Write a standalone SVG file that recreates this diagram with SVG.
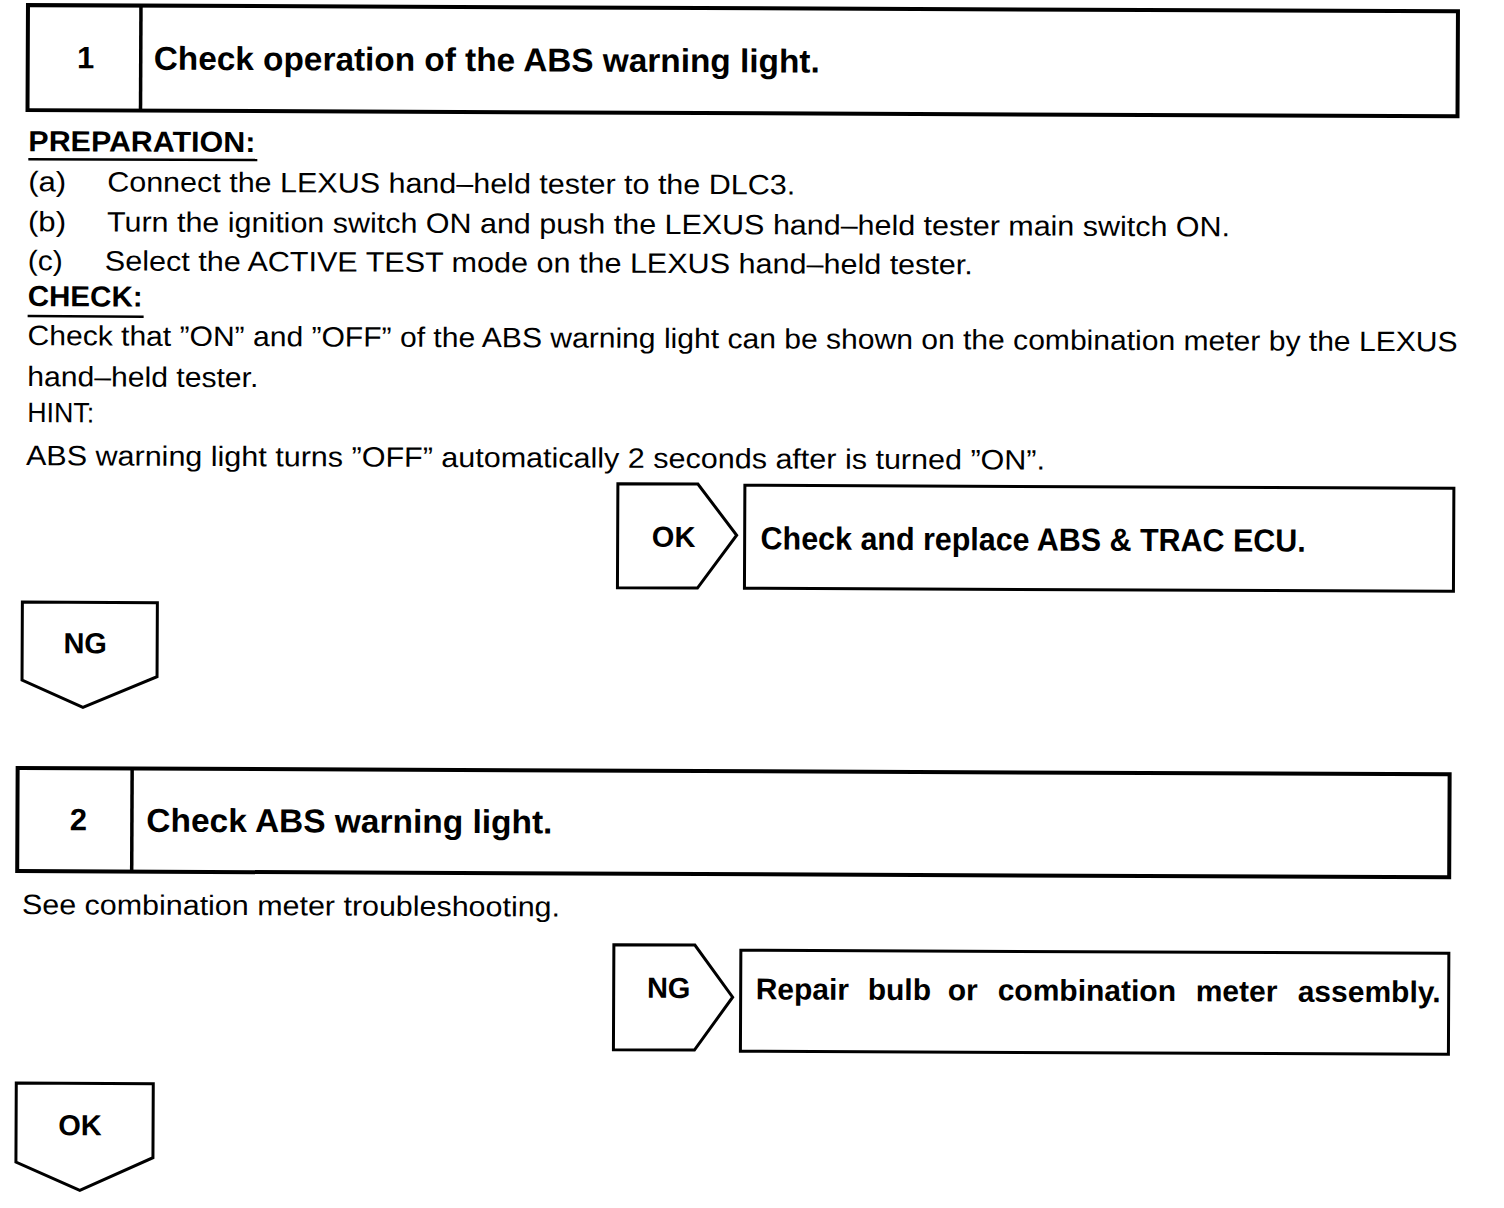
<svg xmlns="http://www.w3.org/2000/svg" width="1504" height="1208" viewBox="0 0 1504 1208">
<defs>
<style>
.frame{fill:#fff;stroke:#000;stroke-width:4}
.div{stroke:#000;stroke-width:3.5}
.flow{fill:#fff;stroke:#000;stroke-width:3;stroke-linejoin:miter}
.ul{stroke:#000;stroke-width:2.5}
.t{font-family:"Liberation Sans",Arial,Helvetica,sans-serif;font-size:28px;fill:#000}
.b{font-weight:bold}
.h{font-size:33px;font-weight:bold}
.lab{font-size:29px;font-weight:bold;text-anchor:middle}
</style>
</defs>
<rect width="1504" height="1208" fill="#fff"/>
<g transform="rotate(0.25)">
  <g id="step1">
    <rect class="frame" x="28" y="5" width="1430" height="105"/>
    <line class="div" x1="141" y1="5" x2="141" y2="110"/>
    <text class="t lab" x="86" y="68" style="font-size:31px">1</text>
    <text class="t h" x="154" y="69" textLength="666" lengthAdjust="spacingAndGlyphs">Check operation of the ABS warning light.</text>
  </g>
  <g id="step1-text">
    <text class="t b" x="29" y="151" style="font-size:29px" textLength="227" lengthAdjust="spacingAndGlyphs">PREPARATION:</text>
    <line class="ul" x1="29" y1="159" x2="258" y2="159"/>
    <text class="t" x="29" y="191" textLength="38" lengthAdjust="spacingAndGlyphs">(a)</text>
    <text class="t" x="108" y="191" textLength="688" lengthAdjust="spacingAndGlyphs">Connect the LEXUS hand–held tester to the DLC3.</text>
    <text class="t" x="29" y="231" textLength="38" lengthAdjust="spacingAndGlyphs">(b)</text>
    <text class="t" x="108" y="231" textLength="1123" lengthAdjust="spacingAndGlyphs">Turn the ignition switch ON and push the LEXUS hand–held tester main switch ON.</text>
    <text class="t" x="29" y="270" textLength="35" lengthAdjust="spacingAndGlyphs">(c)</text>
    <text class="t" x="106" y="270" textLength="868" lengthAdjust="spacingAndGlyphs">Select the ACTIVE TEST mode on the LEXUS hand–held tester.</text>
    <text class="t b" x="29" y="306" style="font-size:29px" textLength="115" lengthAdjust="spacingAndGlyphs">CHECK:</text>
    <line class="ul" x1="29" y1="316" x2="145" y2="316"/>
    <text class="t" x="29" y="345" textLength="1430" lengthAdjust="spacingAndGlyphs">Check that ”ON” and ”OFF” of the ABS warning light can be shown on the combination meter by the LEXUS</text>
    <text class="t" x="29" y="386" textLength="231" lengthAdjust="spacingAndGlyphs">hand–held tester.</text>
    <text class="t" x="29" y="422" textLength="67" lengthAdjust="spacingAndGlyphs">HINT:</text>
    <text class="t" x="28" y="465" textLength="1019" lengthAdjust="spacingAndGlyphs">ABS warning light turns ”OFF” automatically 2 seconds after is turned ”ON”.</text>
  </g>
  <g id="ok1">
    <polygon class="flow" points="620,481 700,481 739,532 700,585 620,585"/>
    <text class="t lab" x="676" y="544">OK</text>
  </g>
  <g id="action1">
    <rect class="flow" x="747" y="482" width="709" height="103"/>
    <text class="t b" x="763" y="546" style="font-size:32px" textLength="545" lengthAdjust="spacingAndGlyphs">Check and replace ABS &amp; TRAC ECU.</text>
  </g>
  <g id="ng1">
    <polygon class="flow" points="25,602 160,602 160,676 86,707 25,680"/>
    <text class="t lab" x="88" y="653">NG</text>
  </g>
  <g id="step2">
    <rect class="frame" x="21" y="768" width="1432" height="103"/>
    <line class="div" x1="135.5" y1="768" x2="135.5" y2="871"/>
    <text class="t lab" x="82" y="830" style="font-size:31px">2</text>
    <text class="t h" x="150" y="831" textLength="406" lengthAdjust="spacingAndGlyphs">Check ABS warning light.</text>
  </g>
  <g id="step2-text">
    <text class="t" x="26" y="914" textLength="538" lengthAdjust="spacingAndGlyphs">See combination meter troubleshooting.</text>
  </g>
  <g id="ng2">
    <polygon class="flow" points="618,942 699,942 737,994 699,1047 618,1047"/>
    <text class="t lab" x="673" y="995">NG</text>
  </g>
  <g id="action2">
    <rect class="flow" x="745" y="947" width="708" height="101"/>
    <text class="t b" y="996" style="font-size:30px"><tspan x="760">Repair</tspan><tspan x="872">bulb</tspan><tspan x="952">or</tspan><tspan x="1002">combination</tspan><tspan x="1200">meter</tspan><tspan x="1302">assembly.</tspan></text>
  </g>
  <g id="ok2">
    <polygon class="flow" points="21,1083 158,1083 158,1157 85,1190 21,1162"/>
    <text class="t lab" x="85" y="1135">OK</text>
  </g>
  <g id="connectors"></g>
</g>
</svg>
